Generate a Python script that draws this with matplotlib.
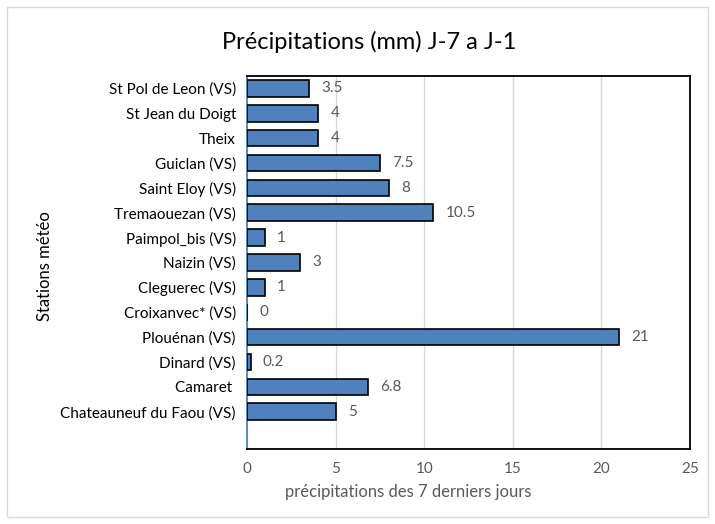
import matplotlib
matplotlib.use('Agg')
import matplotlib.pyplot as plt
from matplotlib.patches import Rectangle

plt.rcParams['font.family'] = ['Lato', 'DejaVu Sans']

# stations from bottom to top (blank slot at the bottom, as in the original)
stations = ['', 'Chateauneuf du Faou (VS)', 'Camaret ', 'Dinard (VS)', 'Plouénan (VS)',
            'Croixanvec* (VS)', 'Cleguerec (VS)', 'Naizin (VS)', 'Paimpol_bis (VS)',
            'Tremaouezan (VS)', 'Saint Eloy (VS)', 'Guiclan (VS)', 'Theix',
            'St Jean du Doigt', 'St Pol de Leon (VS)']
values = [None, 5, 6.8, 0.2, 21, 0, 1, 3, 1, 10.5, 8, 7.5, 4, 4, 3.5]
labels = ['', '5', '6.8', '0.2', '21', '0', '1', '3', '1', '10.5', '8', '7.5', '4', '4', '3.5']
xticks = [0, 5, 10, 15, 20, 25]

fig = plt.figure(figsize=(7.15, 5.24), dpi=100)
ax = fig.add_axes([0.3455, 0.1431, 0.6195, 0.7119])

for i, (v, lab) in enumerate(zip(values, labels)):
    if v is None:
        continue
    ax.barh(i, v, height=0.67, color='#4F81BD', edgecolor='black', linewidth=1.2, zorder=3)
    ax.text(v + 0.7, i, lab, va='center', ha='left', fontsize=11, color='#595959')

ax.set_xlim(0, 25)
ax.set_ylim(-0.5, len(stations) - 0.5)
ax.set_yticks(range(len(stations)))
ax.set_yticklabels(stations, fontsize=11, color='black')
ax.set_xticks(xticks)
ax.set_xticklabels([str(t) for t in xticks], fontsize=11, color='#595959')
ax.tick_params(axis='both', length=0, pad=8)
ax.tick_params(axis='x', pad=9)
ax.xaxis.grid(True, color='#D9D9D9', linewidth=1, zorder=0)
ax.set_axisbelow(True)

for s in ['top', 'right', 'bottom']:
    ax.spines[s].set_color('black')
    ax.spines[s].set_linewidth(1.3)
ax.spines['left'].set_color('#4F81BD')
ax.spines['left'].set_linewidth(1.3)

ax.set_xlabel('précipitations des 7 derniers jours', fontsize=12, color='#595959', labelpad=9)
ax.xaxis.set_label_coords(0.363, -0.095)
ax.set_ylabel('Stations météo', fontsize=12, color='black')
ax.yaxis.set_label_coords(-0.437, 0.49)

fig.text(0.517, 0.92, 'Précipitations (mm) J-7 a J-1', ha='center', va='center', fontsize=17)

fig.patches.append(Rectangle((0.01, 0.013), 0.98, 0.974, transform=fig.transFigure,
                             fill=False, edgecolor='#D9D9D9', linewidth=1))

fig.savefig('out.png', dpi=100)
